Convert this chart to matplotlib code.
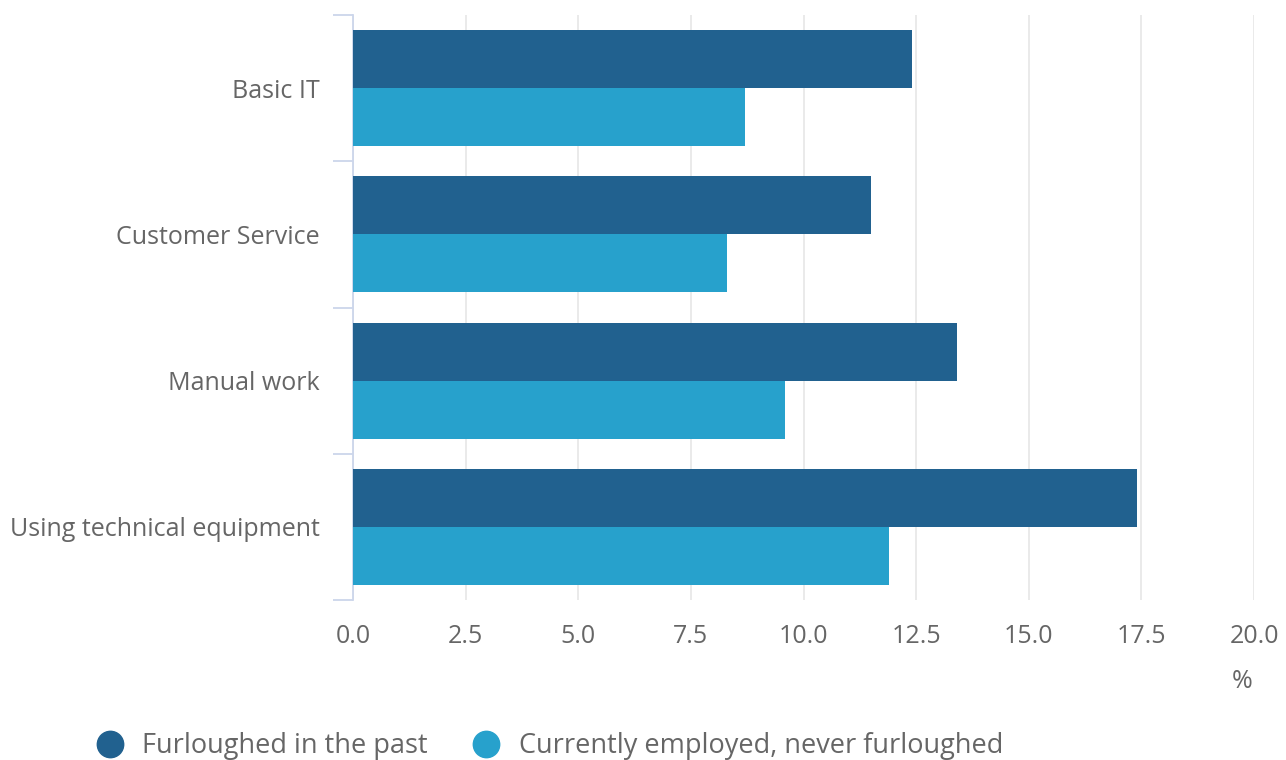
import matplotlib.pyplot as plt
import matplotlib.transforms as mtransforms
import numpy as np
from matplotlib.lines import Line2D

plt.rcParams['font.family'] = ['Open Sans', 'DejaVu Sans']

# skills reported, percentage of respondents
categories = ["Basic IT", "Customer Service", "Manual work", "Using technical equipment"]
furloughed = [12.4, 11.5, 13.4, 17.4]
never_furloughed = [8.7, 8.3, 9.6, 11.9]
series_names = ["Furloughed in the past", "Currently employed, never furloughed"]
colors = ["#21618f", "#27a1cc"]
xticks = [0, 2.5, 5, 7.5, 10, 12.5, 15, 17.5, 20]

text_col = "#666666"
axis_col = "#ccd6eb"

fig = plt.figure(figsize=(12.86, 7.6), dpi=100)
ax = fig.add_axes([353 / 1286, 1 - 600 / 760, (1254 - 353) / 1286, 585 / 760])

y = np.arange(len(categories))
h = 0.397
ax.barh(y - h / 2, furloughed, height=h, color=colors[0], zorder=3)
ax.barh(y + h / 2, never_furloughed, height=h, color=colors[1], zorder=3)

ax.set_xlim(0, 20)
ax.set_ylim(len(categories) - 0.5, -0.5)
ax.set_xticks(xticks)
ax.set_xticklabels([f"{t:.1f}" for t in xticks])
ax.xaxis.grid(True, color="#e6e6e6", linewidth=1.2, zorder=0)
ax.tick_params(axis="x", length=0, pad=17, labelsize=18, labelcolor=text_col)

# category labels sit between boundary ticks
ax.set_yticks(y)
ax.set_yticklabels(categories)
shift = mtransforms.ScaledTranslation(0, -2.5 / 100, fig.dpi_scale_trans)
for lbl in ax.get_yticklabels():
    lbl.set_transform(lbl.get_transform() + shift)
ax.set_yticks(np.arange(len(categories) + 1) - 0.5, minor=True)
ax.tick_params(axis="y", which="major", length=0, pad=24, labelsize=18, labelcolor=text_col)
ax.tick_params(axis="y", which="minor", length=14.5, width=1.3, color=axis_col)

for s in ["top", "right", "bottom"]:
    ax.spines[s].set_visible(False)
ax.spines["left"].set_color(axis_col)
ax.spines["left"].set_linewidth(1.3)

fig.text(1242 / 1286, 1 - 682 / 760, "%", ha="center", va="center", fontsize=18, color=text_col)

handles = [Line2D([], [], marker="o", linestyle="", markersize=19, color=c) for c in colors]
fig.legend(handles, series_names, loc="center left", bbox_to_anchor=(72 / 1286, 1 - 746 / 760),
           ncol=2, frameon=False, fontsize=19.5, labelcolor=text_col, handletextpad=0.2,
           columnspacing=1.15, borderaxespad=0)

fig.savefig("out.png", dpi=100)
